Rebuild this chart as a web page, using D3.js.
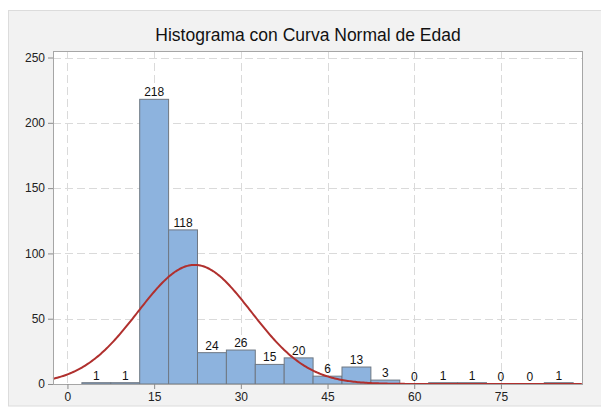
<!DOCTYPE html>
<html>
<head>
<meta charset="utf-8">
<script src="https://cdn.jsdelivr.net/npm/d3@7"></script>
<style>
  body { margin: 0; background: #fff; }
  svg { display: block; font-family: "Liberation Sans", Arial, sans-serif; }
</style>
</head>
<body>
<script>
// histogram data (Edad)
var binStarts = [2.5, 7.5, 12.5, 17.5, 22.5, 27.5, 32.5, 37.5, 42.5, 47.5, 52.5, 57.5, 62.5, 67.5, 72.5, 77.5, 82.5];
var counts = [1, 1, 218, 118, 24, 26, 15, 20, 6, 13, 3, 0, 1, 1, 0, 0, 1];
var binWidth = 5;
var xTicks = [0, 15, 30, 45, 60, 75];
var yTicks = [0, 50, 100, 150, 200, 250];
var mean = 22, sd = 9.8;

var W = 601, H = 407;
var margin = {left: 53, top: 51, right: 18, bottom: 23};

var svg = d3.select("body").append("svg").attr("width", W).attr("height", H);

// outer panel
svg.append("rect").attr("x", 8.5).attr("y", 10.5).attr("width", W).attr("height", 395.5)
    .attr("fill", "#f2f2f2").attr("stroke", "#dcdcdc");

var x = d3.scaleLinear().domain([-2.5, 89.2]).range([margin.left, W - margin.right]);
var y = d3.scaleLinear().domain([0, 255]).range([H - margin.bottom, margin.top]);

svg.append("rect")
    .attr("x", x.range()[0]).attr("y", y.range()[1])
    .attr("width", x.range()[1] - x.range()[0]).attr("height", y.range()[0] - y.range()[1])
    .attr("fill", "#fff");

// grid
var grid = svg.append("g");
grid.selectAll(".gx").data(xTicks).enter().append("line")
    .attr("x1", d => Math.round(x(d)) + 0.5).attr("x2", d => Math.round(x(d)) + 0.5)
    .attr("y1", y.range()[1]).attr("y2", y.range()[0])
    .attr("stroke", "#dadada").attr("stroke-dasharray", "8,4");
grid.selectAll(".gy").data(yTicks.slice(1)).enter().append("line")
    .attr("y1", d => Math.round(y(d)) + 0.5).attr("y2", d => Math.round(y(d)) + 0.5)
    .attr("x1", x.range()[0]).attr("x2", x.range()[1])
    .attr("stroke", "#dadada").attr("stroke-dasharray", "8,4");

// bars
svg.append("g").selectAll("rect").data(counts).enter().append("rect")
    .attr("x", (d, i) => x(binStarts[i]))
    .attr("width", (d, i) => x(binStarts[i] + binWidth) - x(binStarts[i]))
    .attr("y", d => y(d))
    .attr("height", d => y(0) - y(d))
    .attr("fill", "#8db3de")
    .attr("stroke", "#6f7883")
    .attr("stroke-width", 1);

// bar labels
svg.append("g").selectAll("text").data(counts).enter().append("text")
    .attr("x", (d, i) => x(binStarts[i] + binWidth / 2))
    .attr("y", d => y(d) - 3)
    .attr("text-anchor", "middle")
    .attr("font-size", 12)
    .attr("fill", "#111")
    .text(d => d);

// normal curve
var total = d3.sum(counts);
var xs = d3.range(-2.5, 89.25, 0.25);
var line = d3.line()
    .x(d => x(d))
    .y(d => y(total * binWidth * Math.exp(-0.5 * Math.pow((d - mean) / sd, 2)) / (sd * Math.sqrt(2 * Math.PI))));
svg.append("path").datum(xs)
    .attr("d", line)
    .attr("fill", "none")
    .attr("stroke", "#b0302e")
    .attr("stroke-width", 2);

// plot border
svg.append("rect")
    .attr("x", x.range()[0] + 0.5).attr("y", y.range()[1] + 0.5)
    .attr("width", x.range()[1] - x.range()[0] - 1).attr("height", y.range()[0] - y.range()[1])
    .attr("fill", "none").attr("stroke", "#a6a6a6");

// axes
var yAxis = svg.append("g").attr("transform", "translate(" + x.range()[0] + ",0)")
    .call(d3.axisLeft(y).tickValues(yTicks).tickSize(5).tickPadding(3));
var xAxis = svg.append("g").attr("transform", "translate(0," + y.range()[0] + ")")
    .call(d3.axisBottom(x).tickValues(xTicks).tickSize(5).tickPadding(3));
[xAxis, yAxis].forEach(function (a) {
  a.select(".domain").remove();
  a.selectAll("line").attr("stroke", "#8c8c8c");
  a.selectAll("text").attr("font-size", 12).attr("fill", "#222")
    .attr("font-family", "Liberation Sans, Arial, sans-serif");
});

// title
svg.append("text")
    .attr("x", 308).attr("y", 41)
    .attr("text-anchor", "middle")
    .attr("font-size", 17.5)
    .attr("fill", "#111")
    .text("Histograma con Curva Normal de Edad");
</script>
</body>
</html>
